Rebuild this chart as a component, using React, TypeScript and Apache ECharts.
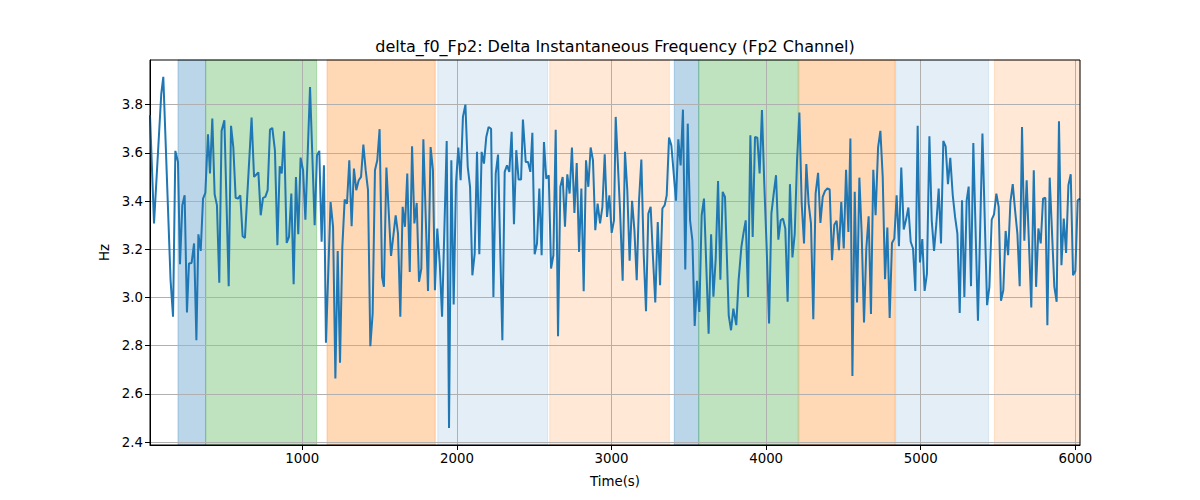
import { useEffect, useRef } from "react";
import * as echarts from "echarts";

const TITLE = "delta_f0_Fp2: Delta Instantaneous Frequency (Fp2 Channel)";

// sample times (s) and delta f0 values (Hz)
const TIME_S = [
  15, 41, 88, 101, 148, 164, 179, 196, 209, 224, 239, 254, 267, 284, 300, 315, 328, 343, 358, 373,
  390, 403, 418, 433, 448, 463, 478, 496, 524, 539, 554, 569, 584, 599, 614, 629, 672, 688, 703, 716,
  731, 746, 761, 776, 791, 806, 823, 839, 854, 867, 882, 899, 914, 929, 944, 959, 974, 989, 1005, 1020,
  1050, 1080, 1095, 1110, 1125, 1140, 1153, 1183, 1199, 1214, 1229, 1244, 1259, 1274, 1289, 1304, 1319, 1334, 1349, 1365,
  1380, 1395, 1410, 1425, 1440, 1455, 1470, 1485, 1500, 1516, 1528, 1544, 1574, 1604, 1619, 1634, 1649, 1664, 1679, 1695,
  1710, 1725, 1740, 1755, 1770, 1783, 1813, 1830, 1845, 1858, 1873, 1889, 1904, 1934, 1949, 1964, 1979, 1994, 2009, 2024,
  2039, 2055, 2070, 2085, 2100, 2115, 2130, 2145, 2160, 2175, 2190, 2205, 2221, 2236, 2251, 2266, 2294, 2309, 2324, 2339,
  2354, 2369, 2384, 2399, 2415, 2427, 2445, 2460, 2475, 2488, 2503, 2518, 2533, 2548, 2563, 2578, 2594, 2609, 2624, 2639,
  2654, 2669, 2684, 2699, 2714, 2729, 2744, 2760, 2775, 2790, 2805, 2820, 2835, 2850, 2865, 2880, 2895, 2910, 2926, 2941,
  2956, 2971, 2986, 3001, 3016, 3027, 3055, 3072, 3087, 3102, 3117, 3133, 3148, 3163, 3178, 3193, 3208, 3223, 3238, 3253,
  3268, 3283, 3299, 3314, 3329, 3344, 3357, 3372, 3387, 3417, 3432, 3447, 3462, 3477, 3493, 3508, 3523, 3538, 3553, 3568,
  3583, 3598, 3628, 3644, 3659, 3674, 3689, 3704, 3719, 3734, 3758, 3773, 3788, 3807, 3822, 3840, 3853, 3868, 3883, 3898,
  3913, 3928, 3943, 3958, 3973, 3988, 4004, 4019, 4034, 4049, 4064, 4079, 4094, 4109, 4124, 4139, 4154, 4170, 4185, 4200,
  4215, 4230, 4245, 4260, 4275, 4290, 4305, 4320, 4336, 4351, 4366, 4381, 4396, 4411, 4426, 4441, 4456, 4471, 4486, 4502,
  4517, 4532, 4545, 4558, 4573, 4588, 4603, 4618, 4633, 4648, 4663, 4678, 4693, 4708, 4724, 4739, 4754, 4769, 4784, 4799,
  4814, 4829, 4844, 4859, 4874, 4890, 4905, 4920, 4935, 4950, 4965, 4980, 4995, 5010, 5025, 5040, 5056, 5071, 5086, 5101,
  5116, 5131, 5146, 5161, 5176, 5191, 5207, 5222, 5237, 5252, 5267, 5282, 5297, 5310, 5325, 5340, 5370, 5399, 5429, 5444,
  5459, 5474, 5489, 5504, 5519, 5534, 5549, 5565, 5580, 5595, 5610, 5625, 5640, 5655, 5670, 5685, 5715, 5731, 5746, 5761,
  5776, 5791, 5806, 5819, 5834, 5864, 5879, 5894, 5910, 5925, 5940, 5955, 5970, 5985, 6000, 6015, 6030,
];

const DELTA_F0 = [
  3.756, 3.307, 3.846, 3.915, 3.072, 2.92, 3.608, 3.562, 3.138, 3.383, 3.424, 2.938, 3.141, 3.143, 3.224, 2.823, 3.262, 3.193, 3.41, 3.434,
  3.677, 3.514, 3.742, 3.428, 3.383, 3.061, 3.691, 3.735, 3.047, 3.712, 3.622, 3.413, 3.41, 3.424, 3.254, 3.247, 3.746, 3.5, 3.51, 3.519,
  3.341, 3.413, 3.417, 3.445, 3.696, 3.703, 3.61, 3.217, 3.544, 3.514, 3.689, 3.226, 3.251, 3.431, 3.055, 3.5, 3.262, 3.58, 3.528, 3.323,
  3.873, 3.3, 3.59, 3.608, 3.231, 3.548, 2.812, 3.396, 3.293, 2.664, 3.193, 2.729, 3.21, 3.406, 3.389, 3.569, 3.296, 3.535, 3.445, 3.486,
  3.5, 3.634, 3.528, 3.445, 2.798, 2.933, 3.528, 3.569, 3.698, 3.085, 3.044, 3.539, 3.172, 3.341, 3.265, 2.92, 3.376, 3.293, 3.514, 3.106,
  3.627, 3.307, 3.392, 3.065, 3.12, 3.656, 3.027, 3.624, 3.528, 3.03, 3.286, 3.141, 2.92, 3.649, 2.459, 3.569, 2.971, 3.472, 3.622, 3.486,
  3.749, 3.8, 3.542, 3.459, 3.092, 3.182, 3.604, 3.179, 3.604, 3.555, 3.666, 3.707, 3.7, 3.002, 3.514, 3.593, 2.823, 3.521, 3.548, 3.521,
  3.687, 3.304, 3.611, 3.489, 3.489, 3.738, 3.562, 3.562, 3.521, 3.683, 3.179, 3.224, 3.452, 3.175, 3.645, 3.493, 3.507, 3.12, 3.175, 3.696,
  2.839, 3.459, 3.5, 3.293, 3.511, 3.431, 3.622, 3.351, 3.558, 3.189, 3.452, 3.026, 3.569, 3.459, 3.622, 3.569, 3.279, 3.389, 3.307, 3.376,
  3.594, 3.334, 3.424, 3.268, 3.32, 3.749, 3.362, 3.069, 3.604, 3.445, 3.152, 3.401, 3.279, 3.072, 3.403, 3.572, 3.182, 2.943, 3.348, 3.376,
  3.168, 2.979, 3.313, 3.051, 3.369, 3.383, 3.424, 3.663, 3.631, 3.401, 3.656, 3.548, 3.779, 3.116, 3.721, 3.32, 3.237, 2.882, 3.069, 2.94,
  3.341, 3.41, 2.85, 3.262, 3.003, 3.161, 3.483, 3.074, 3.438, 3.417, 2.926, 2.864, 2.954, 2.885, 3.072, 3.21, 3.265, 3.32, 3.002, 3.673,
  3.251, 3.666, 3.663, 3.514, 3.777, 3.472, 3.196, 2.892, 3.348, 3.431, 3.507, 3.24, 3.32, 3.327, 3.286, 2.982, 3.47, 3.166, 3.265, 3.569,
  3.767, 3.389, 3.224, 3.553, 3.389, 3.307, 2.91, 3.431, 3.517, 3.309, 3.417, 3.442, 3.452, 3.448, 3.155, 3.302, 3.318, 3.196, 3.396, 3.203,
  3.53, 3.272, 3.659, 2.674, 3.438, 2.979, 3.497, 3.265, 2.896, 3.203, 3.337, 2.931, 3.53, 3.341, 3.622, 3.691, 3.5, 3.076, 3.29, 2.915,
  3.226, 3.244, 3.424, 3.213, 3.539, 3.282, 3.323, 3.373, 3.231, 3.203, 3.027, 3.712, 3.145, 3.242, 3.027, 3.099, 3.669, 3.32, 3.193, 3.307,
  3.452, 3.224, 3.649, 3.627, 3.47, 3.579, 3.424, 3.334, 3.265, 2.936, 3.403, 3.002, 3.403, 3.46, 3.047, 3.641, 2.903, 3.68, 2.968, 3.044,
  3.323, 3.345, 3.431, 3.376, 2.986, 3.03, 3.276, 3.175, 3.396, 3.47, 3.362, 3.265, 3.047, 3.707, 3.235, 3.486, 2.958, 3.528, 3.044, 3.286,
  3.224, 3.41, 3.414, 2.885, 3.497, 3.044, 2.982, 3.731, 3.134, 3.327, 3.185, 3.466, 3.511, 3.092, 3.11, 3.403, 3.41,
];

// shaded phases (start/end in seconds)
const SPAN_START = [196, 375, 1160, 1876, 2600, 3406, 3564, 4212, 4838, 5476];
const SPAN_END = [375, 1093, 1860, 2587, 3374, 3564, 4208, 4834, 5439, 6030];
const SPAN_COLORS = [
  "rgba(31,119,180,0.3)",
  "rgba(44,160,44,0.3)",
  "rgba(255,127,14,0.3)",
  "rgba(31,119,180,0.12)",
  "rgba(255,127,14,0.17)",
  "rgba(31,119,180,0.3)",
  "rgba(44,160,44,0.3)",
  "rgba(255,127,14,0.3)",
  "rgba(31,119,180,0.12)",
  "rgba(255,127,14,0.17)",
];

const X_TICKS = [1000, 2000, 3000, 4000, 5000, 6000];
const Y_TICKS = [2.4, 2.6, 2.8, 3.0, 3.2, 3.4, 3.6, 3.8];

const FONT = "DejaVu Sans";

export default function App() {
  const chartRef = useRef<HTMLDivElement>(null);

  useEffect(() => {
    if (!chartRef.current) return;
    const chart = echarts.init(chartRef.current, null, { renderer: "svg" });

    const points = TIME_S.map((t, i) => [t, DELTA_F0[i]]);
    const areas = SPAN_START.map((s, i) => [
      {
        xAxis: s,
        itemStyle: { color: SPAN_COLORS[i], borderColor: SPAN_COLORS[i], borderWidth: 1 },
      },
      { xAxis: SPAN_END[i] },
    ]);

    chart.setOption({
      animation: false,
      textStyle: { fontFamily: FONT },
      grid: {
        left: 150,
        right: 120,
        top: 60,
        bottom: 55,
        show: true,
        z: 3,
        borderColor: "#000",
        borderWidth: 1,
        backgroundColor: "transparent",
      },
      graphic: [
        {
          type: "text",
          x: 615,
          y: 46,
          style: {
            text: TITLE,
            textAlign: "center",
            textVerticalAlign: "middle",
            font: `16px "${FONT}"`,
            fill: "#000",
          },
        },
      ],
      xAxis: {
        type: "value",
        min: TIME_S[0],
        max: TIME_S[TIME_S.length - 1],
        z: 1.5,
        name: "Time(s)",
        nameLocation: "middle",
        nameGap: 30,
        nameTextStyle: { color: "#000", fontSize: 13.33, fontFamily: FONT },
        axisLine: { show: true, onZero: false, lineStyle: { color: "#000", width: 1 } },
        axisTick: {
          show: true,
          length: 5,
          customValues: X_TICKS,
          lineStyle: { color: "#000", width: 1 },
        },
        axisLabel: {
          customValues: X_TICKS,
          formatter: (v: number) => String(Math.round(v)),
          color: "#000",
          fontSize: 13.33,
          fontFamily: FONT,
          margin: 7,
        },
        splitLine: { show: true, lineStyle: { color: "#b0b0b0", width: 1 } },
      },
      yAxis: {
        type: "value",
        min: 2.388,
        max: 3.985,
        z: 1.5,
        name: "Hz",
        nameLocation: "middle",
        nameRotate: 90,
        nameGap: 36,
        nameTextStyle: { color: "#000", fontSize: 13.33, fontFamily: FONT },
        axisLine: { show: true, onZero: false, lineStyle: { color: "#000", width: 1 } },
        axisTick: {
          show: true,
          length: 5,
          customValues: Y_TICKS,
          lineStyle: { color: "#000", width: 1 },
        },
        axisLabel: {
          customValues: Y_TICKS,
          formatter: (v: number) => v.toFixed(1),
          color: "#000",
          fontSize: 13.33,
          fontFamily: FONT,
          margin: 7,
        },
        splitLine: { show: true, lineStyle: { color: "#b0b0b0", width: 1 } },
      },
      series: [
        {
          type: "line",
          z: 0,
          data: [],
          silent: true,
          markArea: { silent: true, data: areas },
        },
        {
          type: "line",
          z: 2,
          data: points,
          showSymbol: false,
          symbol: "none",
          lineStyle: { color: "#1f77b4", width: 2 },
        },
      ],
    });

    return () => {
      chart.dispose();
    };
  }, []);

  return (
    <div
      ref={chartRef}
      style={{ position: "absolute", left: 0, top: 0, width: 1200, height: 500 }}
    />
  );
}
